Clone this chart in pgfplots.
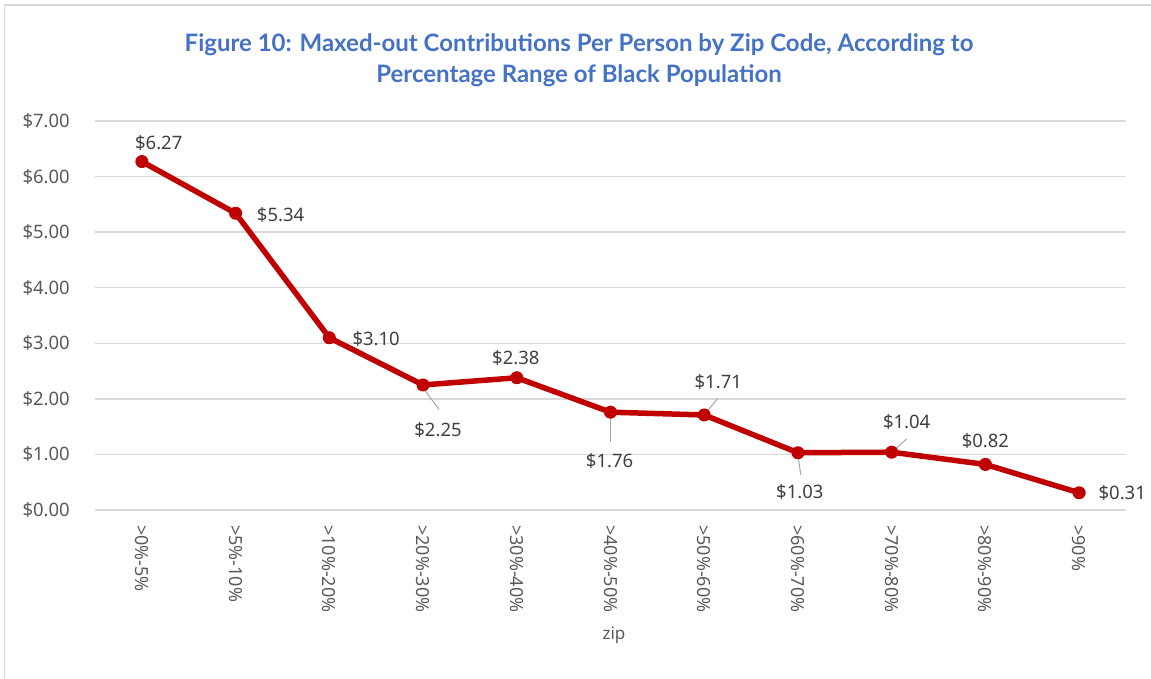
\documentclass[border=0pt]{standalone}
\usepackage{pgfplots}
\pgfplotsset{compat=1.18}
\usepackage{fontspec}
\setmainfont{Noto Sans}
\newfontfamily\titlefont{Lato}
\definecolor{titleblue}{HTML}{4472C4}
\definecolor{linered}{HTML}{C00000}
\definecolor{gridgray}{HTML}{D9D9D9}
\definecolor{ticktext}{HTML}{595959}
\definecolor{labeltext}{HTML}{404040}
\definecolor{leader}{HTML}{A6A6A6}
\begin{document}
\begin{tikzpicture}[x=1pt,y=1pt]
\begin{axis}[
  at={(95pt,169pt)}, anchor=south west,
  scale only axis, width=1031pt, height=389pt,
  xmin=-0.5, xmax=10.5, ymin=0, ymax=7,
  xtick={0,...,10},
  xticklabels={{>0\%-5\%},{>5\%-10\%},{>10\%-20\%},{>20\%-30\%},{>30\%-40\%},{>40\%-50\%},{>50\%-60\%},{>60\%-70\%},{>70\%-80\%},{>80\%-90\%},{>90\%}},
  ytick={0,...,7},
  yticklabels={\$0.00,\$1.00,\$2.00,\$3.00,\$4.00,\$5.00,\$6.00,\$7.00},
  axis line style={draw=none},
  major tick length=0pt,
  ymajorgrids, grid style={gridgray, line width=1.4pt},
  xticklabel shift=15pt,
  xticklabel style={inner sep=0pt, rotate=-90, anchor=west, font=\fontsize{18}{18}\selectfont, text=ticktext},
  yticklabel style={inner sep=0pt, anchor=east, xshift=-25pt, font=\fontsize{18.5}{18.5}\selectfont, text=ticktext},
  clip=false,
]
\addplot[linered, line width=5.5pt, line join=round, mark=*, mark size=6pt,
  mark options={solid, fill=linered, draw=linered, line width=1pt}]
  coordinates {(0,6.27) (1,5.34) (2,3.10) (3,2.25) (4,2.38) (5,1.76) (6,1.71) (7,1.03) (8,1.04) (9,0.82) (10,0.31)};
% leader lines
\draw[leader, line width=1pt] (axis cs:3.0,2.20) -- (axis cs:3.17,1.81);
\draw[leader, line width=1pt] (axis cs:5.0,1.70) -- (axis cs:5.0,1.22);
\draw[leader, line width=1pt] (axis cs:6.0,1.71) -- (axis cs:6.14,2.00);
\draw[leader, line width=1pt] (axis cs:7.0,0.99) -- (axis cs:7.03,0.63);
\draw[leader, line width=1pt] (axis cs:8.0,1.04) -- (axis cs:8.16,1.28);
% data labels
\begin{scope}[every node/.style={font=\fontsize{18.5}{18.5}\selectfont, text=labeltext, inner sep=0pt}]
\node at (axis cs:0.18,6.60) {\$6.27};
\node at (axis cs:1.48,5.31) {\$5.34};
\node at (axis cs:2.50,3.08) {\$3.10};
\node at (axis cs:3.16,1.44) {\$2.25};
\node at (axis cs:3.99,2.74) {\$2.38};
\node at (axis cs:4.99,0.88) {\$1.76};
\node at (axis cs:6.15,2.30) {\$1.71};
\node at (axis cs:7.02,0.32) {\$1.03};
\node at (axis cs:8.16,1.58) {\$1.04};
\node at (axis cs:9.00,1.24) {\$0.82};
\node at (axis cs:10.46,0.31) {\$0.31};
\end{scope}
\end{axis}
\node[font=\fontsize{17}{17}\selectfont, text=ticktext] at (614,44) {zip};
\node[font=\titlefont\bfseries\fontsize{24}{24}\selectfont, text=titleblue] at (579,634) {Figure 10: Maxed-out Contributions Per Person by Zip Code, According to};
\node[font=\titlefont\bfseries\fontsize{24}{24}\selectfont, text=titleblue] at (579,603) {Percentage Range of Black Population};
\draw[gridgray, line width=1.5pt] (4.5,0) -- (4.5,674) -- (1151,674);
\pgfresetboundingbox
\useasboundingbox (0,0) rectangle (1151,679);
\end{tikzpicture}
\end{document}
